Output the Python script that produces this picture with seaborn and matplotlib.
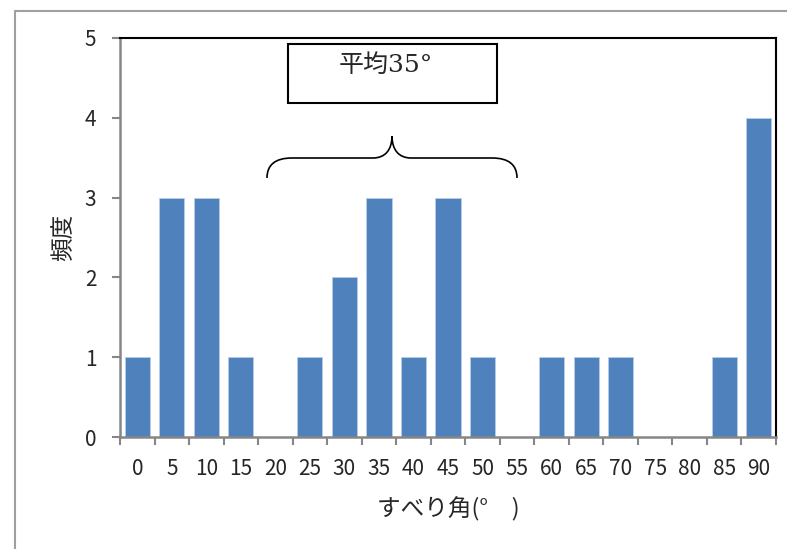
import matplotlib
matplotlib.use("Agg")
import matplotlib.pyplot as plt
import seaborn as sns
import pandas as pd
from matplotlib.path import Path
from matplotlib.patches import PathPatch, Rectangle
from matplotlib.lines import Line2D
from matplotlib.ticker import FixedLocator

# データ
angles = ["0", "5", "10", "15", "20", "25", "30", "35", "40", "45",
          "50", "55", "60", "65", "70", "75", "80", "85", "90"]
counts = [1, 3, 3, 1, 0, 1, 2, 3, 1, 3, 1, 0, 1, 1, 1, 0, 0, 1, 4]
ylabel = "頻度"
xlabel = "すべり角(°　)"
note = "平均35°"

sns.set_style("white")
plt.rcParams["font.family"] = ["Noto Sans CJK JP", "DejaVu Sans"]

W, H = 787, 549
fig = plt.figure(figsize=(W / 100, H / 100), dpi=100)

def px(x, y):
    # 画像のピクセル位置 -> figure座標
    return x / W, 1 - y / H

l, t = px(120, 38)
r, b = px(776, 437)
ax = fig.add_axes([l, b, r - l, t - b])

df = pd.DataFrame({"angle": angles, "count": counts})
sns.barplot(data=df, x="angle", y="count", order=angles, color="#4F81BD",
            saturation=1, width=0.73, edgecolor="#B9CDE5", linewidth=0.6, ax=ax)

ax.set_xlim(-0.5, len(angles) - 0.5)
ax.set_ylim(0, 5)
ax.set_yticks(range(6))

fs = 15
# 目盛り
ax.tick_params(axis="x", which="major", length=0, pad=15, labelsize=fs)
ax.xaxis.set_minor_locator(FixedLocator([i - 0.5 for i in range(len(angles) + 1)]))
ax.tick_params(axis="x", which="minor", length=6, width=1.5, color="#868686", direction="out")
ax.tick_params(axis="y", length=6, width=1.5, color="#868686", direction="out", pad=11, labelsize=fs)
ax.tick_params(axis="both", bottom=True, left=True)
ax.tick_params(axis="x", which="minor", bottom=True)

ax.set_xlabel(xlabel, fontsize=17, labelpad=12)
ax.set_ylabel(ylabel, fontsize=17, labelpad=7)

for s in ["left", "bottom"]:
    ax.spines[s].set_color("#868686")
    ax.spines[s].set_linewidth(1.8)
for s in ["top", "right"]:
    ax.spines[s].set_color("black")
    ax.spines[s].set_linewidth(1.5)

# 平均のボックス
bx0, by0 = px(288, 103)
bx1, by1 = px(497, 44)
fig.patches.append(Rectangle((bx0, by0), bx1 - bx0, by1 - by0, transform=fig.transFigure,
                             fill=False, edgecolor="black", linewidth=1.5, zorder=5))
tx, ty = px(386, 65)
fig.text(tx, ty, note, ha="center", va="center", fontsize=18,
         family=["DejaVu Serif", "Noto Sans CJK JP"])

# 中かっこ
pts = [(267, 178), (267, 165), (275, 158), (292, 158), (373, 158),
       (385, 158), (392, 150), (392, 136),
       (392, 150), (399, 158), (411, 158), (492, 158),
       (509, 158), (517, 165), (517, 178)]
codes = [Path.MOVETO, Path.CURVE4, Path.CURVE4, Path.CURVE4, Path.LINETO,
         Path.CURVE4, Path.CURVE4, Path.CURVE4,
         Path.CURVE4, Path.CURVE4, Path.CURVE4, Path.LINETO,
         Path.CURVE4, Path.CURVE4, Path.CURVE4]
brace = Path([px(x, y) for x, y in pts], codes)
fig.patches.append(PathPatch(brace, transform=fig.transFigure, fill=False,
                             edgecolor="black", linewidth=1.2, zorder=5))

# 外枠
fig.lines.append(Line2D([15 / W, 15 / W], [0, 1 - 11 / H], transform=fig.transFigure,
                        color="#A0A0A0", linewidth=1.5))
fig.lines.append(Line2D([15 / W, 1], [1 - 11 / H, 1 - 11 / H], transform=fig.transFigure,
                        color="#A0A0A0", linewidth=1.5))

fig.savefig("out.png", dpi=100)
